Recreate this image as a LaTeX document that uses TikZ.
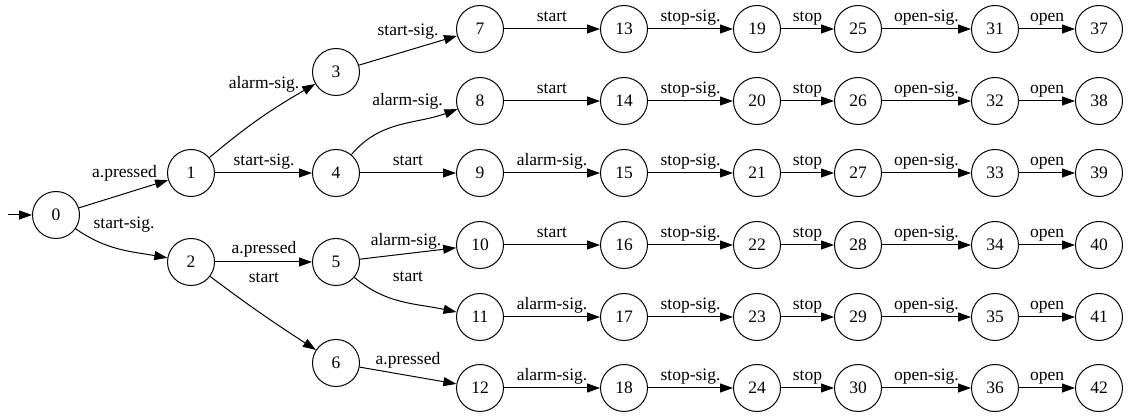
\documentclass[tikz,border=0pt]{standalone}
\usepackage{fontspec}
\setmainfont{Liberation Serif}
\usetikzlibrary{arrows.meta}
\begin{document}
\begin{tikzpicture}[x=1pt,y=1pt,
  st/.style={circle,draw,line width=1pt,minimum size=47pt,inner sep=0pt,font=\fontsize{17.5}{20}\selectfont},
  lbl/.style={anchor=base,inner sep=0pt,font=\fontsize{17.5}{20}\selectfont},
  edge/.style={draw,line width=1pt,-{Triangle[length=13pt,width=9pt]}}]
\useasboundingbox (0,0) rectangle (1128,-419);
% left part
\node[st] (n0) at (56,-215) {0};
\node[st] (n1) at (191,-173) {1};
\node[st] (n2) at (191,-262) {2};
\node[st] (n3) at (336,-72) {3};
\node[st] (n4) at (336,-173) {4};
\node[st] (n5) at (336,-262) {5};
\node[st] (n6) at (336,-363) {6};
% grid of states 7..42
\foreach \x [count=\ci from 0] in {480,624,757,858,995,1099} {
  \foreach \y [count=\ri from 0] in {29,101,173,245,317,388} {
    \pgfmathtruncatemacro{\k}{7+6*\ci+\ri}
    \node[st] (n\k) at (\x,-\y) {\k};
  }
}
% initial arrow
\coordinate (init) at (8,-215);
\draw[edge] (init) -- (n0);
% left edges
\draw[edge] (n0) -- (n1);
\draw[edge] (n0) to[out=-35,in=170] (n2);
\draw[edge] (n1) to[out=40,in=210] (n3);
\draw[edge] (n1) -- (n4);
\draw[edge] (n2) -- (n5);
\draw[edge] (n2) to[out=-37,in=147] (n6);
\draw[edge] (n3) -- (n7);
\draw[edge] (n4) to[out=50,in=200] (n8);
\draw[edge] (n4) -- (n9);
\draw[edge] (n5) -- (n10);
\draw[edge] (n5) to[out=-40,in=168] (n11);
\draw[edge] (n6) -- (n12);
% left labels
\node[lbl] (l01) at (124.5,-178) {a.pressed};
\node[lbl] (l02) at (124,-229) {start-sig.};
\node[lbl] (l13) at (264,-89) {alarm-sig.};
\node[lbl] (l14) at (264,-166) {start-sig.};
\node[lbl] (l25) at (264,-254) {a.pressed};
\node[lbl] (l26) at (264,-283) {start};
\node[lbl] (l37) at (408,-36) {start-sig.};
\node[lbl] (l48) at (407.5,-106) {alarm-sig.};
\node[lbl] (l49) at (408,-166) {start};
\node[lbl] (l510) at (406,-246) {alarm-sig.};
\node[lbl] (l511) at (408,-282) {start};
\node[lbl] (l612) at (408,-365) {a.pressed};
% row edges, first column
\foreach \r/\t in {0/start,1/start,2/alarm-sig.,3/start,4/alarm-sig.,5/alarm-sig.} {
  \pgfmathtruncatemacro{\a}{7+\r}
  \pgfmathtruncatemacro{\b}{13+\r}
  \draw[edge] (n\a) -- node[lbl,midway,yshift=7pt] (lab\a) {\t} (n\b);
}
% remaining row edges
\foreach \c/\t in {1/stop-sig.,2/stop,3/open-sig.,4/open} {
  \foreach \r in {0,...,5} {
    \pgfmathtruncatemacro{\a}{7+6*\c+\r}
    \pgfmathtruncatemacro{\b}{\a+6}
    \draw[edge] (n\a) -- node[lbl,midway,yshift=7pt] (lab\a) {\t} (n\b);
  }
}
\end{tikzpicture}
\end{document}
